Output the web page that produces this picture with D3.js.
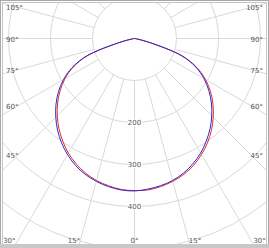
<!DOCTYPE html>
<html>
<head>
<meta charset="utf-8">
<script src="https://cdn.jsdelivr.net/npm/d3@7"></script>
<style>
  body { margin: 0; background: #fff; }
  svg { display: block; }
</style>
</head>
<body>
<div id="chart"></div>
<script>
const W = 269, H = 248;

// angles from nadir (deg) and candela values
const angles = [0, 5, 10, 15, 20, 25, 30, 35, 40, 45, 50, 55, 60, 65, 70, 75, 80, 85, 90];
const redRight  = [363, 362, 358, 352, 344, 333, 319, 303, 285, 265, 244, 221, 195, 164, 121, 40, 5, 0, 0];
const redLeft   = [362, 361, 356, 350, 341, 329, 315, 298, 280, 260, 239, 216, 191, 161, 118, 38, 5, 0, 0];
const blueRight = [362, 360, 356, 350, 341, 329, 315, 298, 280, 260, 239, 216, 191, 161, 118, 38, 5, 0, 0];
const blueLeft  = [363, 362, 358, 352, 344, 333, 319, 303, 285, 265, 244, 221, 195, 164, 121, 40, 5, 0, 0];

const rings = [100, 200, 300, 400, 500, 600];
const ringLabels = [200, 300, 400];
const spokes = d3.range(0, 181, 15);
const sideLabels = [0, 15, 30, 45, 60, 75, 90, 105];

const cx = 134.5, cy = 38.5;
const r = d3.scaleLinear().domain([0, 100]).range([0, 42]);

const svg = d3.select("#chart").append("svg")
    .attr("width", W)
    .attr("height", H);

svg.append("defs").append("clipPath").attr("id", "plot")
  .append("rect").attr("x", 3).attr("y", 3).attr("width", 263).attr("height", 241);

const g = svg.append("g").attr("clip-path", "url(#plot)")
  .append("g").attr("transform", "translate(" + cx + "," + cy + ")");

// rings
g.selectAll("circle.ring")
  .data(rings)
  .enter().append("circle")
    .attr("class", "ring")
    .attr("r", d => r(d))
    .attr("fill", "none")
    .attr("stroke", "#d9d9d9")
    .attr("stroke-width", 1);

// spokes, both sides, starting at the first ring
const rad = d => d * Math.PI / 180;
spokes.forEach(function(a) {
  [1, -1].forEach(function(s) {
    if (s === -1 && (a === 0 || a === 180)) return;
    g.append("line")
      .attr("x1", s * r(100) * Math.sin(rad(a)))
      .attr("y1", r(100) * Math.cos(rad(a)))
      .attr("x2", s * r(900) * Math.sin(rad(a)))
      .attr("y2", r(900) * Math.cos(rad(a)))
      .attr("stroke", "#d9d9d9")
      .attr("stroke-width", 1);
  });
});

// curves: lineRadial angle is clockwise from up, nadir = PI
function curvePoints(left, right) {
  const pts = [];
  for (let i = angles.length - 1; i >= 0; i--) pts.push([Math.PI + rad(angles[i]), left[i]]);
  for (let i = 1; i < angles.length; i++) pts.push([Math.PI - rad(angles[i]), right[i]]);
  return pts;
}
const line = d3.lineRadial()
  .angle(d => d[0])
  .radius(d => r(d[1]))
  .curve(d3.curveCatmullRom);

g.append("path")
  .datum(curvePoints(redLeft, redRight))
  .attr("d", line)
  .attr("fill", "none")
  .attr("stroke", "#e8262a")
  .attr("stroke-width", 1);

g.append("path")
  .datum(curvePoints(blueLeft, blueRight))
  .attr("d", line)
  .attr("fill", "none")
  .attr("stroke", "#2a2ad0")
  .attr("stroke-width", 1);

// ring labels on the nadir line
g.selectAll("text.ring")
  .data(ringLabels)
  .enter().append("text")
    .attr("class", "ring")
    .attr("x", 0)
    .attr("y", d => r(d) + 2.5)
    .attr("text-anchor", "middle")
    .attr("font-family", "DejaVu Sans, sans-serif")
    .attr("font-size", 7)
    .attr("fill", "#555")
    .attr("stroke", "#fff")
    .attr("stroke-width", 2)
    .attr("paint-order", "stroke")
    .text(d => d);

// angle labels around the frame
const lab = svg.append("g")
  .attr("font-family", "DejaVu Sans, sans-serif")
  .attr("font-size", 7)
  .attr("fill", "#555");
const inL = 18, inR = 251, inB = 241;
sideLabels.forEach(function(a) {
  const sx = Math.sin(rad(a)), cy2 = Math.cos(rad(a));
  [1, -1].forEach(function(s) {
    if (s === -1 && a === 0) return;
    if (a <= 30) {
      const t = (inB - cy) / cy2;
      lab.append("text")
        .attr("x", cx + s * (t * sx + (a === 30 ? 2 : 0)))
        .attr("y", inB + 1.5)
        .attr("text-anchor", a === 0 ? "middle" : (s < 0 ? "end" : "start"))
        .text(a + "°");
    } else {
      const dx = s < 0 ? cx - inL : inR - cx;
      const y = cy + dx * cy2 / sx;
      lab.append("text")
        .attr("x", s < 0 ? 6 : 263)
        .attr("y", y + 3)
        .attr("text-anchor", s < 0 ? "start" : "end")
        .text(a + "°");
    }
  });
});

// frame
svg.append("rect").attr("x", 0.5).attr("y", 0.5).attr("width", W - 1).attr("height", H - 1)
  .attr("fill", "none").attr("stroke", "#a8a8a8");
svg.append("rect").attr("x", 2.5).attr("y", 2.5).attr("width", W - 5).attr("height", H - 6)
  .attr("fill", "none").attr("stroke", "#c4c4c4");
svg.append("rect").attr("x", 0).attr("y", 244).attr("width", W).attr("height", 4)
  .attr("fill", "#c8c8c8");
</script>
</body>
</html>
